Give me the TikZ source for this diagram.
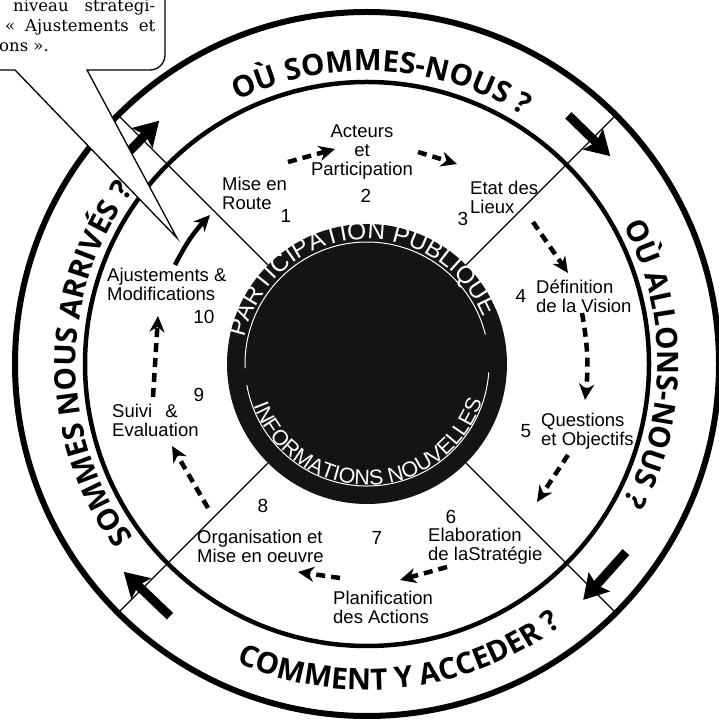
\documentclass[tikz,border=0pt]{standalone}
\usepackage{fontspec}
\setmainfont{Liberation Sans}
\newfontfamily\ringfont{Open Sans}
\newfontfamily\notefont{DejaVu Serif}
\usetikzlibrary{
    arrows.meta,
    decorations.text,
    positioning
}
\newcommand\ringtext{\ringfont\bfseries\fontsize{29.5}{29.5}\selectfont}
\tikzset{
  stage/.style = {
      font=\fontsize{18.5}{19}\selectfont,
      align=left,
      anchor=west,
      inner sep=0pt
  },
  number/.style = {
      font=\fontsize{19}{19}\selectfont,
      inner sep=0pt
  },
  flow/.style = {
      line width=4.5pt,
      dash pattern=on 9pt off 6pt,
      -{Stealth[length=16pt,width=15pt,inset=5pt]}
  },
  loopback/.style = {
      line width=4.5pt,
      -{Stealth[length=16pt,width=15pt,inset=5pt]}
  },
  turn/.style = {
      line width=9pt,
      -{Stealth[length=24pt,width=28pt,inset=4pt]}
  },
  hub/.style = {
      fill=black!92
  },
  hubline/.style = {
      draw=white,
      line width=1pt
  },
  spoke/.style = {
      line width=1.2pt
  },
  ring/.style = {
      line width=4.5pt
  },
  rim/.style = {
      line width=6pt
  },
  callout/.style = {
      draw,
      fill=white,
      line width=1.3pt
  },
  note/.style = {
      font=\notefont\fontsize{16.5}{20}\selectfont,
      inner sep=0pt,
      anchor=base west
  }
}

\begin{document}
\begin{tikzpicture}[x=1pt, y=1pt]
    \useasboundingbox (0,0) rectangle (719,720);
    \clip (0,0) rectangle (719,720);
    \coordinate (C) at (367,356);
    % Hub and rings
    \begin{scope}[shift={(C)}]
        \fill[hub] (0,0) circle[radius=140];
        \draw[hubline] (182:122) arc[start angle=182, end angle=14, radius=122];
        \draw[hubline] (190:122) arc[start angle=190, end angle=356, radius=122];
        \path[decorate, decoration={text along path, text align=center,
            text={|\color{white}\fontsize{24.5}{24.5}\selectfont|PARTICIPATION PUBLIQUE}}]
            (175:125) arc[start angle=175, end angle=15, radius=125];
        \path[decorate, decoration={text along path, text align=center,
            text={|\color{white}\fontsize{21.5}{21.5}\selectfont|INFORMATIONS NOUVELLES}}]
            (196:121) arc[start angle=196, end angle=346, radius=121];
        \foreach \a in {45,135,225,315}
            \draw[spoke] (\a:140) -- (\a:352);
        \draw[ring] (0,0) circle[radius=282];
        \draw[rim] (0,0) circle[radius=352];
        % Turning arrows
        \draw[turn] (51:320) -- (40.5:320);
        \draw[turn] (-36:320) -- (-47.5:320);
        \draw[turn] (-128:320) -- (-139.5:320);
        \draw[turn] (141:320) -- (130.5:320);
        % Questions
        \path[decorate, decoration={text along path, text align=center,
            text={|\ringtext|OÙ SOMMES-NOUS ?}}]
            (127:293) arc[start angle=127, end angle=47, radius=293];
        \path[decorate, decoration={text along path, text align=center,
            text={|\ringtext|OÙ ALLONS-NOUS ?}}]
            (40:291) arc[start angle=40, end angle=-40, radius=291];
        \path[decorate, decoration={text along path, text align=center,
            text={|\ringtext|COMMENT Y ACCEDER ?}}]
            (236:326) arc[start angle=236, end angle=317, radius=326];
        \path[decorate, decoration={text along path, text align=center,
            text={|\ringtext|SOMMES NOUS ARRIVÉS ?}}]
            (220:291) arc[start angle=220, end angle=140, radius=291];
    \end{scope}
    % Steps
    \node[stage] (route) at (222,526.5) {Mise en\\Route};
    \node[stage, anchor=center, align=center] (acteurs) at (362,568) {Acteurs\\et\\Participation};
    \node[stage] (lieux) at (470,523) {Etat des\\Lieux};
    \node[stage] (vision) at (536,424) {Définition\\de la Vision};
    \node[stage] (objectifs) at (541,288.5) {Questions\\et Objectifs};
    \node[stage] (strategie) at (428,174) {Elaboration\\de laStratégie};
    \node[stage] (actions) at (333,113) {Planification\\des Actions};
    \node[stage] (oeuvre) at (197,174) {Organisation et\\Mise en oeuvre};
    \node[stage] (suivi) at (112,299.5) {Suivi\hspace{13pt}\&\\Evaluation};
    \node[stage] (ajust) at (107,435.5) {Ajustements \&\\Modifications};
    % Numbers
    \node[number] (n1) at (286,504) {1};
    \node[number] (n2) at (366,524) {2};
    \node[number] (n3) at (463,501) {3};
    \node[number] (n4) at (521,424) {4};
    \node[number] (n5) at (526,289) {5};
    \node[number] (n6) at (451,203) {6};
    \node[number] (n7) at (377,182) {7};
    \node[number] (n8) at (263,214) {8};
    \node[number] (n9) at (199,325) {9};
    \node[number] (n10) at (204,403) {10};
    % Edges
    \draw[flow] ([shift={(66,31.5)}]route.west) -- ([shift={(-27,3)}]acteurs.center);
    \draw[flow] ([shift={(56,0)}]acteurs.center) -- ([shift={(-13,33)}]lieux.west);
    \draw[flow] ([shift={(63,-25)}]lieux.west) -- ([shift={(32,23)}]vision.west);
    \draw[flow] ([shift={(46,-17)}]vision.west) to[bend left=8] ([shift={(44,31.5)}]objectifs.west);
    \draw[flow] ([shift={(27,-23.5)}]objectifs.west) -- ([shift={(109,44)}]strategie.west);
    \draw[flow] ([shift={(19,-21)}]strategie.west) -- ([shift={(67,27)}]actions.west);
    \draw[flow] ([shift={(7,29)}]actions.west) -- ([shift={(101,-26)}]oeuvre.west);
    \draw[flow] ([shift={(11,38)}]oeuvre.west) -- ([shift={(60,-25.5)}]suivi.west);
    \draw[flow] ([shift={(41,23.5)}]suivi.west) -- ([shift={(51,-31.5)}]ajust.west);
    \draw[loopback] ([shift={(68,19.5)}]ajust.west) to[bend left=8] ([shift={(-12,-21.5)}]route.west);
    % Callout
    \draw[callout] (-5,650) -- (15,650) -- (177,482) -- (87,650) -- (150,650)
        arc[start angle=-90, end angle=0, radius=15] -- (165,730) -- (-5,730) -- cycle;
    \node[note] (note1) at (13,708) {\makebox[142pt][s]{niveau strategi-}};
    \node[note] (note2) at (5,688) {\makebox[150pt][s]{« Ajustements et}};
    \node[note] (note3) at (-1,668) {ons ».};
\end{tikzpicture}
\end{document}
